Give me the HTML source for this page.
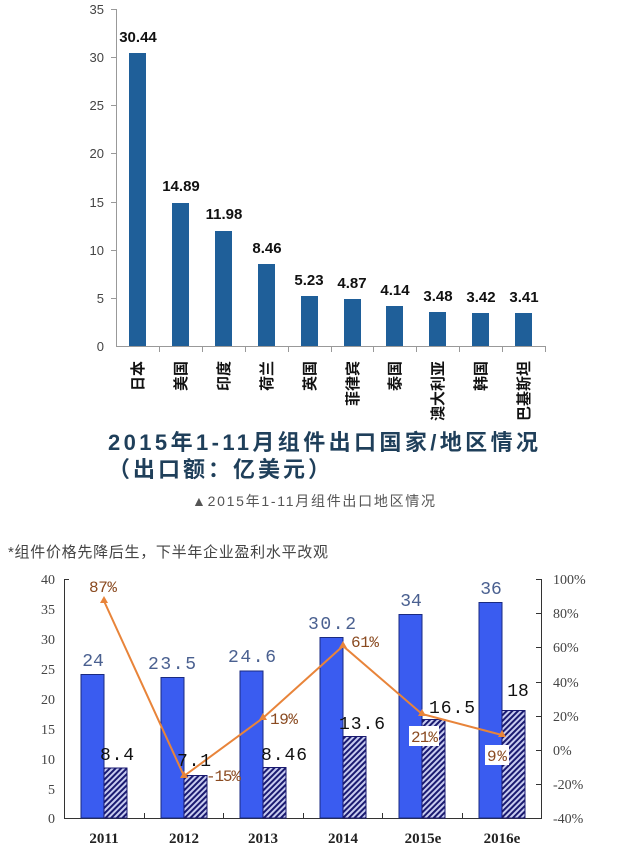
<!DOCTYPE html>
<html><head><meta charset="utf-8"><style>
html,body{margin:0;padding:0;background:#fff;}
svg{display:block;}
.cj{font-family:"Liberation Sans","Noto Sans CJK SC",sans-serif;}
.sf{font-family:"Liberation Serif","Noto Serif CJK SC",serif;}
.mo{font-family:"Liberation Mono",monospace;}
</style></head><body>
<svg width="624" height="846" xmlns="http://www.w3.org/2000/svg">
<defs>
<pattern id="h" patternUnits="userSpaceOnUse" width="4" height="4" patternTransform="rotate(45)">
<rect width="4" height="4" fill="#c8ccf0"/><rect width="2" height="4" fill="#1a1a70"/>
</pattern>
</defs>
<!-- top chart -->
<g class="cj" font-size="13" fill="#444" text-anchor="end">
<text x="104" y="14">35</text><text x="104" y="62">30</text><text x="104" y="110">25</text>
<text x="104" y="158">20</text><text x="104" y="207">15</text><text x="104" y="255">10</text>
<text x="104" y="303">5</text><text x="104" y="351">0</text>
</g>
<g stroke="#999" stroke-width="1">
<line x1="116.5" y1="9" x2="116.5" y2="347"/>
<line x1="116" y1="346.5" x2="545" y2="346.5"/>
<line x1="111" y1="9.5" x2="117" y2="9.5"/><line x1="111" y1="57.5" x2="117" y2="57.5"/>
<line x1="111" y1="105.5" x2="117" y2="105.5"/><line x1="111" y1="153.5" x2="117" y2="153.5"/>
<line x1="111" y1="202.5" x2="117" y2="202.5"/><line x1="111" y1="250.5" x2="117" y2="250.5"/>
<line x1="111" y1="298.5" x2="117" y2="298.5"/>
<line x1="159.5" y1="346" x2="159.5" y2="352"/><line x1="202.5" y1="346" x2="202.5" y2="352"/>
<line x1="245.5" y1="346" x2="245.5" y2="352"/><line x1="288.5" y1="346" x2="288.5" y2="352"/>
<line x1="331.5" y1="346" x2="331.5" y2="352"/><line x1="373.5" y1="346" x2="373.5" y2="352"/>
<line x1="416.5" y1="346" x2="416.5" y2="352"/><line x1="459.5" y1="346" x2="459.5" y2="352"/>
<line x1="502.5" y1="346" x2="502.5" y2="352"/><line x1="545.5" y1="346" x2="545.5" y2="352"/>
</g>
<g fill="#1f5f99">
<rect x="129" y="53" width="17" height="293"/>
<rect x="172" y="203" width="17" height="143"/>
<rect x="215" y="231" width="17" height="115"/>
<rect x="258" y="264" width="17" height="82"/>
<rect x="301" y="296" width="17" height="50"/>
<rect x="344" y="299" width="17" height="47"/>
<rect x="386" y="306" width="17" height="40"/>
<rect x="429" y="312" width="17" height="34"/>
<rect x="472" y="313" width="17" height="33"/>
<rect x="515" y="313" width="17" height="33"/>
</g>
<g class="cj" font-size="15" font-weight="bold" fill="#111" text-anchor="middle">
<text x="138" y="42">30.44</text><text x="181" y="191">14.89</text><text x="224" y="219">11.98</text>
<text x="267" y="253">8.46</text><text x="309" y="285">5.23</text><text x="352" y="288">4.87</text>
<text x="395" y="295">4.14</text><text x="438" y="301">3.48</text><text x="481" y="302">3.42</text>
<text x="524" y="302">3.41</text>
</g>
<g class="cj" font-size="15" font-weight="bold" fill="#111" text-anchor="end">
<text transform="translate(143,361) rotate(-90)">日本</text>
<text transform="translate(186,361) rotate(-90)">美国</text>
<text transform="translate(229,361) rotate(-90)">印度</text>
<text transform="translate(272,361) rotate(-90)">荷兰</text>
<text transform="translate(315,361) rotate(-90)">英国</text>
<text transform="translate(358,361) rotate(-90)">菲律宾</text>
<text transform="translate(400,361) rotate(-90)">泰国</text>
<text transform="translate(443,361) rotate(-90)">澳大利亚</text>
<text transform="translate(486,361) rotate(-90)">韩国</text>
<text transform="translate(529,361) rotate(-90)">巴基斯坦</text>
</g>
<text class="cj" x="108" y="450" font-size="22" font-weight="bold" fill="#1f3f5a" textLength="430">2015年1-11月组件出口国家/地区情况</text>
<text class="cj" x="108" y="477" font-size="22" font-weight="bold" fill="#1f3f5a" textLength="222">（出口额：亿美元）</text>
<text class="cj" x="192" y="506" font-size="14" fill="#555" textLength="243">▲2015年1-11月组件出口地区情况</text>
<text class="cj" x="8" y="557" font-size="15" fill="#444" textLength="320">*组件价格先降后生，下半年企业盈利水平改观</text>
<!-- bottom chart -->
<g class="sf" font-size="14" fill="#444" text-anchor="end">
<text x="55" y="584">40</text><text x="55" y="614">35</text><text x="55" y="644">30</text>
<text x="55" y="674">25</text><text x="55" y="704">20</text><text x="55" y="734">15</text>
<text x="55" y="764">10</text><text x="55" y="794">5</text><text x="55" y="823">0</text>
</g>
<g class="sf" font-size="14" fill="#444">
<text x="553" y="584">100%</text><text x="553" y="618">80%</text><text x="553" y="652">60%</text>
<text x="553" y="687">40%</text><text x="553" y="721">20%</text><text x="553" y="755">0%</text>
<text x="553" y="789">-20%</text><text x="553" y="823">-40%</text>
</g>
<g stroke="#333" stroke-width="1">
<line x1="64.5" y1="579" x2="64.5" y2="819"/>
<line x1="64" y1="818.5" x2="541" y2="818.5"/>
<line x1="541.5" y1="579" x2="541.5" y2="819"/>
<line x1="536" y1="579.5" x2="542" y2="579.5"/><line x1="536" y1="613.5" x2="542" y2="613.5"/>
<line x1="536" y1="647.5" x2="542" y2="647.5"/><line x1="536" y1="682.5" x2="542" y2="682.5"/>
<line x1="536" y1="716.5" x2="542" y2="716.5"/><line x1="536" y1="750.5" x2="542" y2="750.5"/>
<line x1="536" y1="784.5" x2="542" y2="784.5"/>
<line x1="64" y1="579.5" x2="69" y2="579.5"/>
<line x1="144.5" y1="813" x2="144.5" y2="818"/><line x1="223.5" y1="813" x2="223.5" y2="818"/>
<line x1="303.5" y1="813" x2="303.5" y2="818"/><line x1="382.5" y1="813" x2="382.5" y2="818"/>
<line x1="462.5" y1="813" x2="462.5" y2="818"/>
</g>
<g fill="#3a5cf0" stroke="#1a2a80" stroke-width="1">
<rect x="81" y="674.5" width="23" height="143.5"/>
<rect x="161" y="677.5" width="23" height="140.5"/>
<rect x="240" y="671" width="23" height="147"/>
<rect x="320" y="637.5" width="23" height="180.5"/>
<rect x="399" y="614.5" width="23" height="203.5"/>
<rect x="479" y="602.5" width="23" height="215.5"/>
</g>
<g fill="url(#h)" stroke="#1a1a70" stroke-width="1">
<rect x="104" y="768" width="23" height="50"/>
<rect x="184" y="775.5" width="23" height="42.5"/>
<rect x="263" y="767.5" width="23" height="50.5"/>
<rect x="343" y="736.5" width="23" height="81.5"/>
<rect x="422" y="719.5" width="23" height="98.5"/>
<rect x="502" y="710.5" width="23" height="107.5"/>
</g>
<polyline points="104,601 184,776 263,718 343,646 422,714 502,735" fill="none" stroke="#e8843a" stroke-width="2"/>
<g fill="#e8843a">
<path d="M104,596 l4,7 h-8z"/><path d="M184,771 l4,7 h-8z"/><path d="M263,713 l4,7 h-8z"/>
<path d="M343,641 l4,7 h-8z"/><path d="M422,709 l4,7 h-8z"/><path d="M502,730 l4,7 h-8z"/>
</g>
<g class="mo" font-size="18" fill="#4a6090" text-anchor="middle">
<text x="93" y="666">24</text><text x="172" y="669" textLength="48">23.5</text><text x="252" y="662" textLength="48">24.6</text>
<text x="332" y="629" textLength="48">30.2</text><text x="411" y="606">34</text><text x="491" y="594">36</text>
</g>
<g class="mo" font-size="18" fill="#111" text-anchor="middle">
<text x="117" y="760" textLength="34">8.4</text><text x="194" y="766" textLength="34">7.1</text><text x="284" y="760" textLength="46">8.46</text>
<text x="362" y="729" textLength="46">13.6</text><text x="452" y="713" textLength="46">16.5</text><text x="518" y="696">18</text>
</g>
<g class="mo" font-size="16" fill="#8a4a20">
<text x="89" y="592" textLength="28">87%</text><text x="206" y="781" textLength="35">-15%</text><text x="270" y="724" textLength="28">19%</text>
<text x="351" y="647" textLength="28">61%</text>
<rect x="409" y="726" width="30" height="20" fill="#fff"/><text x="411" y="742" textLength="27">21%</text>
<rect x="485" y="745" width="24" height="20" fill="#fff"/><text x="487" y="761" textLength="20">9%</text>
</g>
<g class="sf" font-size="15" font-weight="bold" fill="#222" text-anchor="middle">
<text x="104" y="843">2011</text><text x="184" y="843">2012</text><text x="263" y="843">2013</text>
<text x="343" y="843">2014</text><text x="423" y="843">2015e</text><text x="502" y="843">2016e</text>
</g>
</svg>
</body></html>
